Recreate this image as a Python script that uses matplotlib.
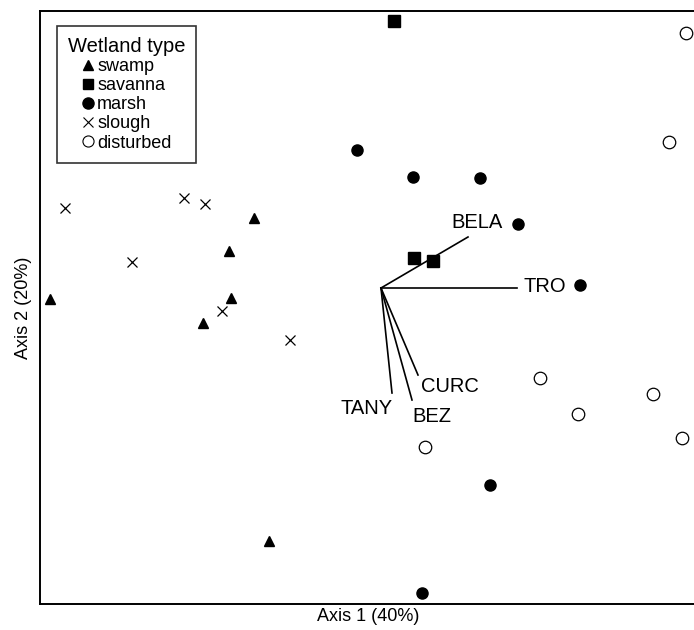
import matplotlib
matplotlib.use("Agg")
import matplotlib.pyplot as plt
from matplotlib.lines import Line2D

plt.rcParams['font.family'] = ['Liberation Sans', 'DejaVu Sans']

# ---------- site scores ----------
swamp_x = [-3.31, -1.27, -1.52, -1.50, -1.78, -1.12]
swamp_y = [-0.11, 0.70, 0.37, -0.10, -0.35, -2.53]

savanna_x = [0.13, 0.33, 0.52]
savanna_y = [2.67, 0.30, 0.27]

marsh_x = [-0.24, 0.32, 0.99, 1.37, 1.99, 1.09, 0.41]
marsh_y = [1.38, 1.11, 1.10, 0.64, 0.03, -1.97, -3.05]

slough_x = [-3.16, -2.49, -1.97, -1.76, -1.59, -0.91]
slough_y = [0.80, 0.26, 0.90, 0.84, -0.23, -0.52]

disturbed_x = [3.05, 2.88, 1.59, 1.97, 2.72, 3.01, 0.44]
disturbed_y = [2.55, 1.46, -0.90, -1.26, -1.06, -1.50, -1.59]

# ---------- environmental vectors ----------
vec_names = ["BELA", "TRO", "CURC", "BEZ", "TANY"]
vec_x = [0.87, 1.36, 0.37, 0.31, 0.11]
vec_y = [0.51, 0.0, -0.87, -1.12, -1.05]
lab_x = [0.96, 1.64, 0.69, 0.51, -0.14]
lab_y = [0.65, 0.01, -0.99, -1.29, -1.21]

fig = plt.figure(figsize=(6.94, 6.30), dpi=100)
ax = fig.add_axes([40 / 694, 26 / 630, 656 / 694, 593 / 630])
ax.set_xlim(-3.41, 3.15)
ax.set_ylim(-3.16, 2.77)
ax.set_xticks([])
ax.set_yticks([])
ax.spines['right'].set_visible(False)
for s in ['left', 'top', 'bottom']:
    ax.spines[s].set_linewidth(1.4)

# vectors from origin
for name, vx, vy, lx, ly in zip(vec_names, vec_x, vec_y, lab_x, lab_y):
    ax.plot([0, vx], [0, vy], color='black', lw=1.2, zorder=1)
    ax.text(lx, ly, name, fontsize=14.5, ha='center', va='center')

ms = 8
ax.plot(swamp_x, swamp_y, '^', color='black', ms=ms - 1, ls='none', zorder=3)
ax.plot(savanna_x, savanna_y, 's', color='black', ms=ms, ls='none', zorder=3)
ax.plot(marsh_x, marsh_y, 'o', color='black', ms=ms, ls='none', zorder=3)
ax.plot(slough_x, slough_y, 'x', color='black', ms=ms - 1, mew=0.9, ls='none', zorder=3)
ax.plot(disturbed_x, disturbed_y, 'o', mfc='white', mec='black', mew=0.9,
        ms=ms + 1, ls='none', zorder=3)

ax.set_xlabel("Axis 1 (40%)", fontsize=13, labelpad=3)
ax.set_ylabel("Axis 2 (20%)", fontsize=13, labelpad=6)

handles = [
    Line2D([], [], marker='^', color='black', ls='none', ms=7),
    Line2D([], [], marker='s', color='black', ls='none', ms=7),
    Line2D([], [], marker='o', color='black', ls='none', ms=8),
    Line2D([], [], marker='x', color='black', ls='none', ms=7, mew=0.8),
    Line2D([], [], marker='o', mfc='white', mec='black', ls='none', ms=8, mew=0.8),
]
labels = ["swamp", "savanna", "marsh", "slough", "disturbed"]
leg = ax.legend(handles, labels, title="Wetland type", loc='upper left',
                bbox_to_anchor=(17 / 656, 1 - 15 / 593), fontsize=13,
                title_fontsize=14.5, frameon=True, fancybox=False,
                edgecolor='black', handlelength=0.7, handletextpad=0.15,
                labelspacing=0.12, borderpad=0.6, borderaxespad=0)
leg.get_frame().set_linewidth(1.2)

fig.savefig("out.png", dpi=100)
